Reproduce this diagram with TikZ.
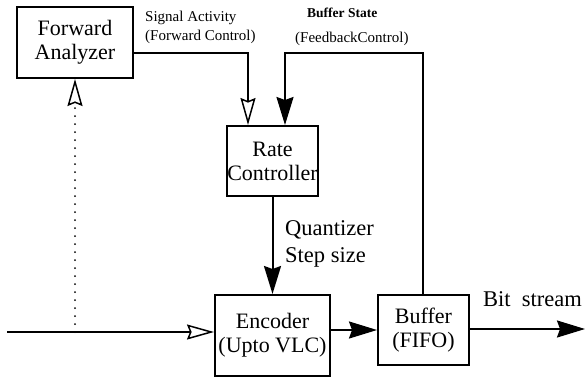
\documentclass[tikz,border=0pt]{standalone}
\usepackage{fontspec}
\setmainfont{Liberation Serif}
\usetikzlibrary{arrows.meta}
\begin{document}
\begin{tikzpicture}[x=1pt,y=-1pt,
  box/.style={draw,line width=2pt,inner sep=0pt,font=\fontsize{22}{24}\selectfont,align=center},
  conn/.style={line width=2pt},
  fulltip/.style={-{Stealth[length=28pt,width=17pt,inset=3pt]}},
  opentip/.style={-{Stealth[open,length=27pt,width=15pt,inset=3pt,line width=1.5pt]}},
  small/.style={font=\fontsize{15}{16}\selectfont,inner sep=0pt,anchor=west},
  bigl/.style={font=\fontsize{22.5}{27}\selectfont,inner sep=0pt,align=left}]
\useasboundingbox (0,0) rectangle (585,378);
% boxes
\node[box,minimum width=116pt,minimum height=71pt] (fa) at (75,42.5) {Forward\\Analyzer};
\node[box,minimum width=89pt,minimum height=70pt] (rc) at (272.5,161) {Rate\\Controller};
\node[box,minimum width=115pt,minimum height=81pt] (enc) at (272.5,335.5) {Encoder\\(Upto VLC)};
\node[box,minimum width=91pt,minimum height=70pt] (buf) at (423.5,330) {Buffer\\(FIFO)};
% helper coordinates
\coordinate (s1) at (248,53);
\coordinate (s2) at (285,53);
\coordinate (s3) at (423,53);
\coordinate (in) at (7,332);
\coordinate (dot) at (75,332);
\coordinate (out) at (585,329);
% labels
\node[small] (la1) at (145,18) {Signal Activity};
\node[small] (la2) at (145,37) {(Forward Control)};
\node[small,font=\bfseries\fontsize{13.5}{15}\selectfont] (lb1) at (307,13) {Buffer State};
\node[small] (lb2) at (295,39) {(FeedbackControl)};
\node[bigl,anchor=north west] (lq) at (285,220) {Quantizer\\Step size};
\node[font=\fontsize{22.5}{24}\selectfont,inner sep=0pt,anchor=west] (lbs) at (483,299) {Bit\ \ stream};
% connectors
\draw[conn,opentip] (fa.east |- s1) -| (rc.north -| s1);
\draw[conn,fulltip] (buf.north -| s3) |- (s2) -- (rc.north -| s2);
\draw[conn,fulltip] (rc.south) -- (enc.north);
\draw[conn,line width=2.5pt,opentip] (in) -- (enc.west |- in);
\draw[line width=2pt,line cap=round,dash pattern=on 0pt off 8pt,opentip] (dot) -- (fa.south -| dot);
\draw[conn,fulltip] (enc.east |- 0,330) -- (buf.west |- 0,330);
\draw[conn,fulltip] (buf.east |- out) -- (out);
\end{tikzpicture}
\end{document}
